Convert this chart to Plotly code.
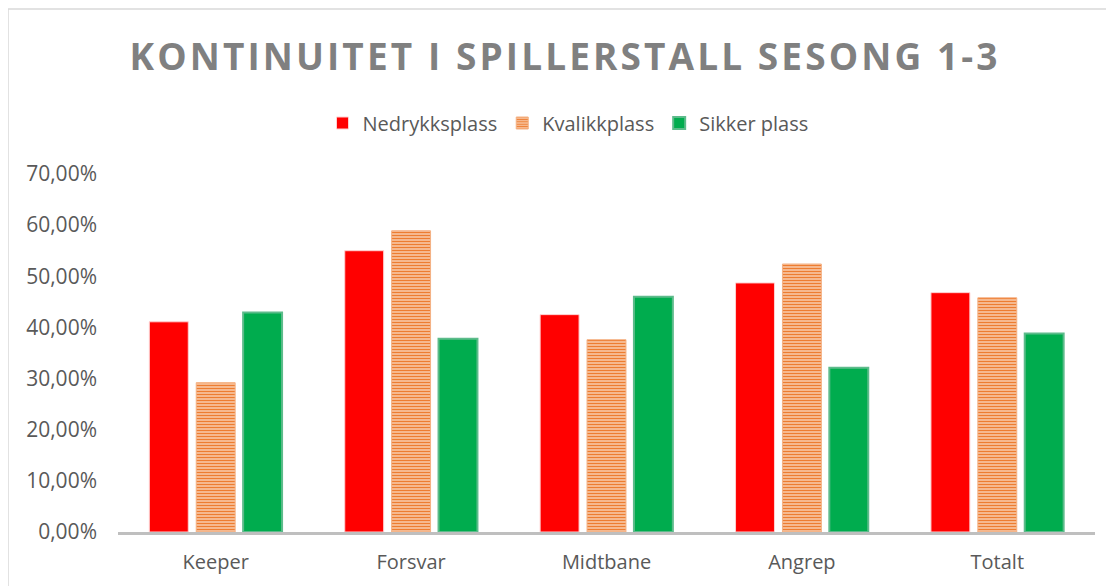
import plotly.graph_objects as go

# Kategorier og verdier (lest av fra figuren)
kategorier = ["Keeper", "Forsvar", "Midtbane", "Angrep", "Totalt"]
nedrykk = [0.411, 0.550, 0.425, 0.487, 0.468]
kvalik = [0.292, 0.589, 0.376, 0.524, 0.458]
sikker = [0.429, 0.378, 0.460, 0.321, 0.388]
y_ticks = [0.0, 0.1, 0.2, 0.3, 0.4, 0.5, 0.6, 0.7]

# Siden har 8 px marg rundt figuren, så figuren gjøres litt mindre
W, H = 1106, 578
ML, MR, MT, MB = 110, 19, 166, 54
pw = W - ML - MR
ph = H - MT - MB

fig = go.Figure()

# Nedrykksplass - rød
fig.add_trace(go.Bar(
    x=kategorier, y=nedrykk, name="Nedrykksplass",
    marker=dict(color="#FF0000", line=dict(color="#FFD0D0", width=1)),
))

# Kvalikkplass - oransje stripet
fig.add_trace(go.Bar(
    x=kategorier, y=kvalik, name="Kvalikkplass",
    marker=dict(
        color="#F6B58A",
        line=dict(color="#F4B183", width=1),
        pattern=dict(shape="-", fgcolor="#ED7D31", bgcolor="#FCE0CC",
                     size=3, solidity=0.6, fillmode="replace"),
    ),
))

# Sikker plass - grønn
fig.add_trace(go.Bar(
    x=kategorier, y=sikker, name="Sikker plass",
    marker=dict(color="#00AC4E", line=dict(color="#5DBB8B", width=2)),
))

# Ramme rundt diagrammet
fig.add_shape(
    type="rect", xref="paper", yref="paper",
    x0=(0 - ML) / pw, x1=(W + 10 - ML) / pw,
    y0=-(MB + 10) / ph, y1=(ph + MT - 1) / ph,
    line=dict(color="#D9D9D9", width=1.5), layer="below",
)

fig.update_layout(
    width=W, height=H,
    margin=dict(l=ML, r=MR, t=MT, b=MB),
    paper_bgcolor="white", plot_bgcolor="white",
    separators=", ",
    font=dict(family="Open Sans", color="#595959", size=20),
    title=dict(
        text="KONTINUITET I SPILLERSTALL SESONG 1-3",
        x=557 / W, xref="container", xanchor="center",
        y=1 - 49 / H, yref="container", yanchor="middle",
        font=dict(family="Open Sans", size=37, color="#808080", weight="bold"),
    ),
    legend=dict(
        orientation="h",
        x=560 / W, xref="container", xanchor="center",
        y=1 - 115 / H, yref="container", yanchor="middle",
        font=dict(size=20, color="#595959"),
        itemwidth=30,
    ),
    bargap=0.28, bargroupgap=0.17,
    xaxis=dict(
        showgrid=False, showline=True, linecolor="#BFBFBF", linewidth=2.5,
        ticks="", tickfont=dict(size=20, color="#595959"), ticklabelstandoff=10,
    ),
    yaxis=dict(
        range=[0, 0.7], tickvals=y_ticks, tickformat=".2%",
        showgrid=False, zeroline=False, showline=False,
        tickfont=dict(size=21, color="#595959"), ticklabelstandoff=20,
    ),
)

# Bokstavavstand i tittelen, som i originalen
fig.write_html(
    "out.html",
    post_script="document.querySelectorAll('.gtitle').forEach(function(t){t.style.letterSpacing='3.1px';});",
)
